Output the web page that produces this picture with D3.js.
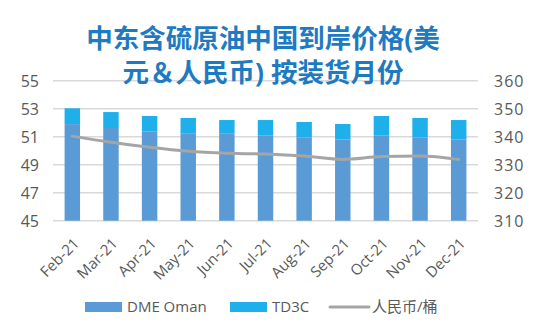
<!DOCTYPE html>
<html><head><meta charset="utf-8">
<script src="https://cdn.jsdelivr.net/npm/d3@7"></script>
<style>
html,body{margin:0;padding:0;background:#fff;}
svg text{font-family:"Open Sans","Noto Sans CJK SC",sans-serif;}
</style></head>
<body><svg id="c" width="542" height="334"></svg>
<script>
const categories = ["Feb-21","Mar-21","Apr-21","May-21","Jun-21","Jul-21","Aug-21","Sep-21","Oct-21","Nov-21","Dec-21"];
const dmeOman = [51.9,51.62,51.36,51.21,51.21,51.07,50.93,50.79,51.07,50.93,50.79];
const td3c    = [1.13,1.14,1.12,1.13,0.98,1.12,1.12,1.12,1.41,1.41,1.40];
const rmb     = [340.2,338.0,336.2,334.8,334.1,333.8,333.1,331.9,332.9,333.1,331.9];
const leftTicks = [45,47,49,51,53,55];
const rightTicks = [310,320,330,340,350,360];
const titleLines = ["中东含硫原油中国到岸价格(美","元＆人民币) 按装货月份"];

const svg = d3.select("#c");
const m = {l:53, r:478, t:80.7, b:220.7};
const x = d3.scaleBand().domain(categories).range([m.l,m.r]).paddingInner(0.6).paddingOuter(0.3);
const yL = d3.scaleLinear().domain([45,55]).range([m.b,m.t]);
const yR = d3.scaleLinear().domain([310,360]).range([m.b,m.t]);

// gridlines
svg.append("g").selectAll("line").data(leftTicks).join("line")
  .attr("x1",m.l).attr("x2",m.r).attr("y1",d=>yL(d)).attr("y2",d=>yL(d))
  .attr("stroke","#d9d9d9").attr("stroke-width",1.5);

// left axis labels
const axL = svg.append("g").attr("transform",`translate(${m.l-14},0)`)
  .call(d3.axisLeft(yL).tickValues(leftTicks).tickSize(0).tickPadding(0));
axL.select(".domain").remove();
axL.selectAll("text").attr("font-size",16).attr("fill","#595959").attr("font-family","Open Sans").attr("dy","0.35em");

const axR = svg.append("g").attr("transform",`translate(${m.r+16},0)`)
  .call(d3.axisRight(yR).tickValues(rightTicks).tickSize(0).tickPadding(0));
axR.select(".domain").remove();
axR.selectAll("text").attr("font-size",16).attr("fill","#595959").attr("font-family","Open Sans").attr("letter-spacing","1px").attr("dy","0.35em");

// bars
const bw = x.bandwidth();
svg.append("g").selectAll("rect").data(categories).join("rect")
  .attr("x",d=>x(d)).attr("width",bw)
  .attr("y",(d,i)=>yL(dmeOman[i])).attr("height",(d,i)=>yL(45)-yL(dmeOman[i]))
  .attr("fill","#5b9bd5");
svg.append("g").selectAll("rect").data(categories).join("rect")
  .attr("x",d=>x(d)).attr("width",bw)
  .attr("y",(d,i)=>yL(dmeOman[i]+td3c[i])).attr("height",(d,i)=>yL(dmeOman[i])-yL(dmeOman[i]+td3c[i]))
  .attr("fill","#1fb0ec");

// line
const line = d3.line().x((d,i)=>x(categories[i])+bw/2).y(d=>yR(d)).curve(d3.curveMonotoneX);
svg.append("path").datum(rmb).attr("d",line).attr("fill","none")
  .attr("stroke","#a5a5a5").attr("stroke-width",3).attr("stroke-linecap","round");

// x labels
const axB = svg.append("g").attr("transform",`translate(0,${m.b+18})`)
  .call(d3.axisBottom(x).tickSize(0).tickPadding(0));
axB.select(".domain").remove();
axB.selectAll("text").attr("font-size",15).attr("fill","#595959").attr("font-family","Open Sans")
  .attr("text-anchor","end").attr("dy","0.35em")
  .attr("transform","translate(4,2) rotate(-45)");

// title
svg.append("g").selectAll("text").data(titleLines).join("text")
  .attr("x",263).attr("y",(d,i)=>48+i*34).attr("text-anchor","middle")
  .attr("font-size",26.5).attr("font-weight","bold").attr("fill","#1f7bc1")
  .attr("font-family","Noto Sans CJK SC")
  .text(d=>d);

// legend
const lg = svg.append("g").attr("font-size",15).attr("fill","#595959");
const legendItems = [
  {name:"DME Oman", type:"rect", color:"#5b9bd5", x:85},
  {name:"TD3C", type:"rect", color:"#1fb0ec", x:230},
  {name:"人民币/桶", type:"line", color:"#a5a5a5", x:330}
];
legendItems.forEach(it=>{
  if(it.type==="rect"){
    lg.append("rect").attr("x",it.x).attr("y",302).attr("width",37).attr("height",10).attr("fill",it.color);
  } else {
    lg.append("line").attr("x1",it.x).attr("x2",it.x+39).attr("y1",307).attr("y2",307)
      .attr("stroke",it.color).attr("stroke-width",3).attr("stroke-linecap","round");
  }
  lg.append("text").attr("x",it.x+42).attr("y",307).attr("dy","0.35em").attr("fill","#595959")
    .attr("font-family", it.type==="line" ? "Noto Sans CJK SC" : "Open Sans").text(it.name);
});
</script></body></html>
